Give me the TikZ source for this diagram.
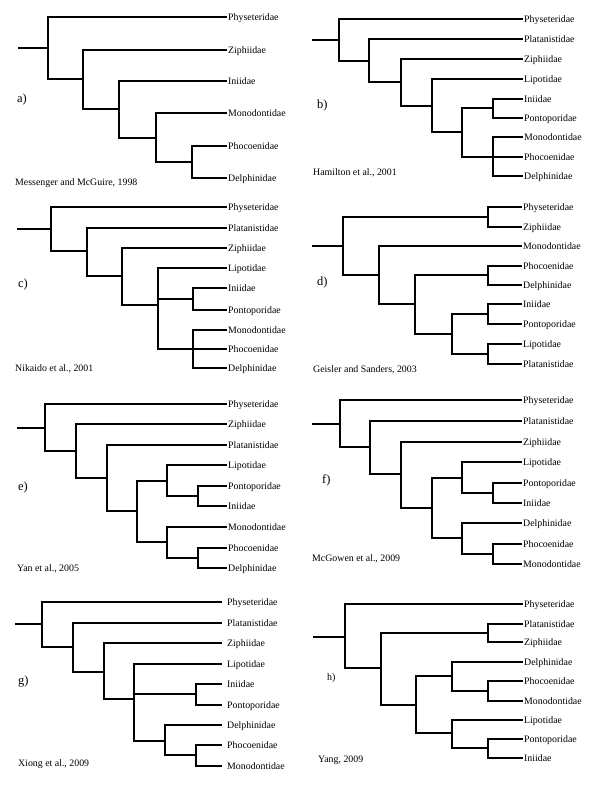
\documentclass[tikz,border=0pt]{standalone}
\usepackage{fontspec}
\setmainfont{Liberation Serif}

\begin{document}
\begin{tikzpicture}[x=1bp,y=-1bp,
    br/.style={line width=1.3bp},
    tip/.style={anchor=west,inner xsep=1bp,inner ysep=0pt,text height=6.4bp,text depth=0pt,font=\fontsize{9.9}{11}\selectfont},
    pnl/.style={anchor=west,inner sep=0pt,font=\fontsize{12.5}{14}\selectfont},
    src/.style={anchor=west,inner sep=0pt,font=\fontsize{9.9}{11}\selectfont}
]
\useasboundingbox (0,0) rectangle (600,800);

\coordinate (a0) at (18,48);
\coordinate (a1) at (48,48);
\coordinate (a2) at (83,79);
\coordinate (a3) at (119,109);
\coordinate (a4) at (156,138);
\coordinate (a5) at (192,162);
\node[tip] (aPhy) at (227,17) {Physeteridae};
\node[tip] (aZip) at (227,50) {Ziphiidae};
\node[tip] (aIni) at (227,81) {Iniidae};
\node[tip] (aMon) at (227,113) {Monodontidae};
\node[tip] (aPho) at (227,146) {Phocoenidae};
\node[tip] (aDel) at (227,178) {Delphinidae};
\draw[br] (a0) -- (a1) (a1) |- (aPhy.west) (a1) |- (a2) (a2) |- (aZip.west) (a2) |- (a3)
  (a3) |- (aIni.west) (a3) |- (a4) (a4) |- (aMon.west) (a4) |- (a5)
  (a5) |- (aPho.west) (a5) |- (aDel.west);
\node[pnl] (alab) at (17,100) {a)};
\node[src] (asrc) at (15,183) {Messenger and McGuire, 1998};

\coordinate (b0) at (312,40);
\coordinate (b1) at (339,40);
\coordinate (b2) at (369,61);
\coordinate (b3) at (401,82);
\coordinate (b4) at (432,106);
\coordinate (b5) at (462,132);
\coordinate (b6) at (493,108);
\coordinate (b7) at (493,157);
\node[tip] (bPhy) at (523,19) {Physeteridae};
\node[tip] (bPla) at (523,39) {Platanistidae};
\node[tip] (bZip) at (523,59) {Ziphiidae};
\node[tip] (bLip) at (523,79) {Lipotidae};
\node[tip] (bIni) at (523,99) {Iniidae};
\node[tip] (bPon) at (523,118) {Pontoporidae};
\node[tip] (bMon) at (523,137) {Monodontidae};
\node[tip] (bPho) at (523,157) {Phocoenidae};
\node[tip] (bDel) at (523,176) {Delphinidae};
\draw[br] (b0) -- (b1) (b1) |- (bPhy.west) (b1) |- (b2) (b2) |- (bPla.west) (b2) |- (b3)
  (b3) |- (bZip.west) (b3) |- (b4) (b4) |- (bLip.west) (b4) |- (b5)
  (b5) |- (b6) (b5) |- (b7) (b6) |- (bIni.west) (b6) |- (bPon.west)
  (b7) |- (bMon.west) (b7) -- (bPho.west) (b7) |- (bDel.west);
\node[pnl] (blab) at (317,106) {b)};
\node[src] (bsrc) at (313,173) {Hamilton et al., 2001};

\coordinate (c0) at (17,229);
\coordinate (c1) at (51,229);
\coordinate (c2) at (87,251);
\coordinate (c3) at (122,276);
\coordinate (c4) at (158,305);
\coordinate (c5) at (193,299);
\coordinate (c6) at (193,349);
\node[tip] (cPhy) at (227,207) {Physeteridae};
\node[tip] (cPla) at (227,228) {Platanistidae};
\node[tip] (cZip) at (227,248) {Ziphiidae};
\node[tip] (cLip) at (227,268) {Lipotidae};
\node[tip] (cIni) at (227,288) {Iniidae};
\node[tip] (cPon) at (227,310) {Pontoporidae};
\node[tip] (cMon) at (227,330) {Monodontidae};
\node[tip] (cPho) at (227,349) {Phocoenidae};
\node[tip] (cDel) at (227,368) {Delphinidae};
\draw[br] (c0) -- (c1) (c1) |- (cPhy.west) (c1) |- (c2) (c2) |- (cPla.west) (c2) |- (c3)
  (c3) |- (cZip.west) (c3) |- (c4) (c4) |- (cLip.west) (c4) |- (c5) (c4) |- (c6)
  (c5) |- (cIni.west) (c5) |- (cPon.west)
  (c6) |- (cMon.west) (c6) -- (cPho.west) (c6) |- (cDel.west);
\node[pnl] (clab) at (18,285) {c)};
\node[src] (csrc) at (15,369) {Nikaido et al., 2001};

\coordinate (d0) at (312,246);
\coordinate (d1) at (343,246);
\coordinate (d2) at (379,275);
\coordinate (d3) at (415,304);
\coordinate (d4) at (452,334);
\coordinate (d5) at (488,217);
\coordinate (d6) at (488,275);
\coordinate (d7) at (488,314);
\coordinate (d8) at (488,354);
\node[tip] (dPhy) at (522,207) {Physeteridae};
\node[tip] (dZip) at (522,227) {Ziphiidae};
\node[tip] (dMon) at (522,246) {Monodontidae};
\node[tip] (dPho) at (522,266) {Phocoenidae};
\node[tip] (dDel) at (522,285) {Delphinidae};
\node[tip] (dIni) at (522,304) {Iniidae};
\node[tip] (dPon) at (522,324) {Pontoporidae};
\node[tip] (dLip) at (522,344) {Lipotidae};
\node[tip] (dPla) at (522,364) {Platanistidae};
\draw[br] (d0) -- (d1) (d1) |- (d5) (d1) |- (d2) (d5) |- (dPhy.west) (d5) |- (dZip.west)
  (d2) |- (dMon.west) (d2) |- (d3) (d3) |- (d6) (d3) |- (d4)
  (d6) |- (dPho.west) (d6) |- (dDel.west) (d4) |- (d7) (d4) |- (d8)
  (d7) |- (dIni.west) (d7) |- (dPon.west) (d8) |- (dLip.west) (d8) |- (dPla.west);
\node[pnl] (dlab) at (317,283) {d)};
\node[src] (dsrc) at (313,370) {Geisler and Sanders, 2003};

\coordinate (e0) at (17,428);
\coordinate (e1) at (45,428);
\coordinate (e2) at (76,451);
\coordinate (e3) at (107,478);
\coordinate (e4) at (137,511);
\coordinate (e5) at (167,481);
\coordinate (e6) at (198,496);
\coordinate (e7) at (167,542);
\coordinate (e8) at (198,558);
\node[tip] (ePhy) at (227,404) {Physeteridae};
\node[tip] (eZip) at (227,424) {Ziphiidae};
\node[tip] (ePla) at (227,445) {Platanistidae};
\node[tip] (eLip) at (227,465) {Lipotidae};
\node[tip] (ePon) at (227,486) {Pontoporidae};
\node[tip] (eIni) at (227,506) {Iniidae};
\node[tip] (eMon) at (227,527) {Monodontidae};
\node[tip] (ePho) at (227,548) {Phocoenidae};
\node[tip] (eDel) at (227,568) {Delphinidae};
\draw[br] (e0) -- (e1) (e1) |- (ePhy.west) (e1) |- (e2) (e2) |- (eZip.west) (e2) |- (e3)
  (e3) |- (ePla.west) (e3) |- (e4) (e4) |- (e5) (e4) |- (e7)
  (e5) |- (eLip.west) (e5) |- (e6) (e6) |- (ePon.west) (e6) |- (eIni.west)
  (e7) |- (eMon.west) (e7) |- (e8) (e8) |- (ePho.west) (e8) |- (eDel.west);
\node[pnl] (elab) at (18,487) {e)};
\node[src] (esrc) at (17,569) {Yan et al., 2005};

\coordinate (f0) at (312,424);
\coordinate (f1) at (340,424);
\coordinate (f2) at (370,447);
\coordinate (f3) at (401,474);
\coordinate (f4) at (432,508);
\coordinate (f5) at (462,478);
\coordinate (f6) at (493,493);
\coordinate (f7) at (462,538);
\coordinate (f8) at (493,554);
\node[tip] (fPhy) at (522,400) {Physeteridae};
\node[tip] (fPla) at (522,421) {Platanistidae};
\node[tip] (fZip) at (522,442) {Ziphiidae};
\node[tip] (fLip) at (522,462) {Lipotidae};
\node[tip] (fPon) at (522,483) {Pontoporidae};
\node[tip] (fIni) at (522,503) {Iniidae};
\node[tip] (fDel) at (522,523) {Delphinidae};
\node[tip] (fPho) at (522,544) {Phocoenidae};
\node[tip] (fMon) at (522,564) {Monodontidae};
\draw[br] (f0) -- (f1) (f1) |- (fPhy.west) (f1) |- (f2) (f2) |- (fPla.west) (f2) |- (f3)
  (f3) |- (fZip.west) (f3) |- (f4) (f4) |- (f5) (f4) |- (f7)
  (f5) |- (fLip.west) (f5) |- (f6) (f6) |- (fPon.west) (f6) |- (fIni.west)
  (f7) |- (fDel.west) (f7) |- (f8) (f8) |- (fPho.west) (f8) |- (fMon.west);
\node[pnl] (flab) at (322,480) {f)};
\node[src] (fsrc) at (312,559) {McGowen et al., 2009};

\coordinate (g0) at (15,624);
\coordinate (g1) at (42,624);
\coordinate (g2) at (73,647);
\coordinate (g3) at (104,672);
\coordinate (g4) at (134,699);
\coordinate (g5) at (196,694);
\coordinate (g6) at (165,741);
\coordinate (g7) at (196,755);
\node[tip,inner xsep=5bp] (gPhy) at (222,602) {Physeteridae};
\node[tip,inner xsep=5bp] (gPla) at (222,623) {Platanistidae};
\node[tip,inner xsep=5bp] (gZip) at (222,643) {Ziphiidae};
\node[tip,inner xsep=5bp] (gLip) at (222,664) {Lipotidae};
\node[tip,inner xsep=5bp] (gIni) at (222,684) {Iniidae};
\node[tip,inner xsep=5bp] (gPon) at (222,705) {Pontoporidae};
\node[tip,inner xsep=5bp] (gDel) at (222,725) {Delphinidae};
\node[tip,inner xsep=5bp] (gPho) at (222,745) {Phocoenidae};
\node[tip,inner xsep=5bp] (gMon) at (222,766) {Monodontidae};
\draw[br] (g0) -- (g1) (g1) |- (gPhy.west) (g1) |- (g2) (g2) |- (gPla.west) (g2) |- (g3)
  (g3) |- (gZip.west) (g3) |- (g4) (g4) |- (gLip.west) (g4) |- (g5) (g4) |- (g6)
  (g5) |- (gIni.west) (g5) |- (gPon.west)
  (g6) |- (gDel.west) (g6) |- (g7) (g7) |- (gPho.west) (g7) |- (gMon.west);
\node[pnl] (glab) at (18,682) {g)};
\node[src] (gsrc) at (18,764) {Xiong et al., 2009};

\coordinate (h0) at (313,637);
\coordinate (h1) at (345,637);
\coordinate (h2) at (381,668);
\coordinate (h3) at (488,633);
\coordinate (h4) at (416,705);
\coordinate (h5) at (452,676);
\coordinate (h6) at (488,691);
\coordinate (h7) at (452,733);
\coordinate (h8) at (488,748);
\node[tip] (hPhy) at (523,604) {Physeteridae};
\node[tip] (hPla) at (523,624) {Platanistidae};
\node[tip] (hZip) at (523,642) {Ziphiidae};
\node[tip] (hDel) at (523,662) {Delphinidae};
\node[tip] (hPho) at (523,681) {Phocoenidae};
\node[tip] (hMon) at (523,701) {Monodontidae};
\node[tip] (hLip) at (523,720) {Lipotidae};
\node[tip] (hPon) at (523,739) {Pontoporidae};
\node[tip] (hIni) at (523,758) {Iniidae};
\draw[br] (h0) -- (h1) (h1) |- (hPhy.west) (h1) |- (h2) (h2) |- (h3) (h2) |- (h4)
  (h3) |- (hPla.west) (h3) |- (hZip.west) (h4) |- (h5) (h4) |- (h7)
  (h5) |- (hDel.west) (h5) |- (h6) (h6) |- (hPho.west) (h6) |- (hMon.west)
  (h7) |- (hLip.west) (h7) |- (h8) (h8) |- (hPon.west) (h8) |- (hIni.west);
\node[pnl,font=\fontsize{10}{12}\selectfont] (hlab) at (327,678) {h)};
\node[src] (hsrc) at (318,760) {Yang, 2009};
\end{tikzpicture}
\end{document}
